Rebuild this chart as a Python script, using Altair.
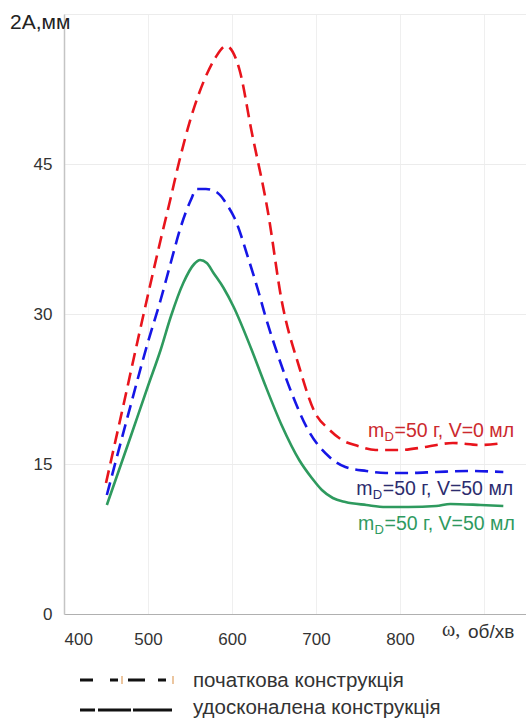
import altair as alt
import pandas as pd

# ---- data ----
omega_red = [450, 470, 490, 515, 527, 537, 551, 567, 580, 593, 609, 623, 643, 659, 680, 699, 715, 731, 750, 771, 800, 830, 863, 896, 923]
amp_red = [13.1, 20.6, 28.2, 37.4, 41.6, 45.2, 49.6, 53.4, 55.6, 56.8, 54.4, 48.4, 40.1, 31.4, 24.7, 20.1, 18.5, 17.4, 16.8, 16.4, 16.4, 16.7, 17.1, 16.9, 17.1]

omega_blue = [451, 475, 500, 515, 527, 539, 551, 558, 569, 583, 595, 603, 620, 632, 639, 655, 671, 690, 716, 735, 760, 783, 810, 843, 880, 923]
amp_blue = [11.9, 19.5, 27.2, 31.4, 35.1, 38.7, 41.4, 42.5, 42.5, 42.1, 40.8, 39.6, 35.4, 32.1, 30.0, 25.8, 22.1, 18.5, 15.7, 14.7, 14.3, 14.1, 14.1, 14.2, 14.3, 14.2]

omega_green = [451, 480, 500, 515, 527, 542, 555, 562, 570, 578, 590, 602, 623, 639, 659, 680, 695, 707, 720, 735, 760, 783, 810, 843, 860, 896, 923]
amp_green = [10.9, 17.9, 22.8, 26.4, 29.7, 33.1, 35.0, 35.4, 35.1, 34.1, 32.6, 30.7, 26.5, 23.0, 18.9, 15.4, 13.6, 12.4, 11.6, 11.2, 10.9, 10.7, 10.7, 10.8, 11.0, 10.9, 10.8]

label_rest = ["=50 г, V=0 мл", "=50 г, V=50 мл", "=50 г, V=50 мл"]
label_x = [762, 748, 750]
label_y = [17.7, 11.9, 8.4]

x_ticks = [400, 500, 600, 700, 800, 900]
y_ticks = [0, 15, 30, 45, 60]
y_title = "2A,мм"
x_title_sym = "ω,"
x_title_unit = "об/хв"
legend_texts = ["початкова конструкція", "удосконалена конструкція"]

line_colors = ["#e8141c", "#1616e6", "#2e9a5e"]
label_colors = ["#cc2a2e", "#2c2c6e", "#2f9a5f"]

FONT = "Liberation Sans"

xscale = alt.Scale(domain=[400, 950], nice=False, zero=False)
yscale = alt.Scale(domain=[0, 60], nice=False)

xaxis = alt.Axis(values=x_ticks, labelExpr="datum.value == 900 ? '' : datum.label",
                 title=None, ticks=False, grid=True, gridColor="#efefef",
                 domainColor="#b0b0b0", domainWidth=1.2, labelFontSize=17,
                 labelColor="#333333", labelFont=FONT, labelPadding=17)
yaxis = alt.Axis(values=y_ticks, labelExpr="datum.value == 60 ? '' : datum.label",
                 title=None, ticks=False, grid=True, gridColor="#ececec",
                 domainColor="#c4c4c4", domainWidth=1.5, labelFontSize=17,
                 labelColor="#333333", labelFont=FONT, labelPadding=12)


def line_layer(omega, amp, color, dash):
    df = pd.DataFrame({"omega": omega, "A": amp})
    kw = dict(color=color, strokeWidth=2.6, interpolate="monotone")
    if dash:
        kw["strokeDash"] = [13, 7]
    return alt.Chart(df).mark_line(**kw).encode(
        x=alt.X("omega:Q", scale=xscale, axis=xaxis),
        y=alt.Y("A:Q", scale=yscale, axis=yaxis),
    )


red = line_layer(omega_red, amp_red, line_colors[0], True)
blue = line_layer(omega_blue, amp_blue, line_colors[1], True)
green = line_layer(omega_green, amp_green, line_colors[2], False)

labels = []
for i in range(3):
    df = pd.DataFrame({"x": [label_x[i]], "y": [label_y[i]], "rest": [label_rest[i]]})
    base = alt.Chart(df).encode(x=alt.X("x:Q", scale=xscale), y=alt.Y("y:Q", scale=yscale))
    labels.append(base.mark_text(text="m", align="left", baseline="alphabetic", fontSize=19.5,
                                 font=FONT, color=label_colors[i]))
    labels.append(base.mark_text(text="D", align="left", baseline="alphabetic", fontSize=13,
                                 font=FONT, color=label_colors[i], dx=16.5, dy=4))
    labels.append(base.mark_text(align="left", baseline="alphabetic", fontSize=19.5,
                                 font=FONT, color=label_colors[i], dx=26.5).encode(text="rest:N"))

one = pd.DataFrame({"k": [0]})

ytitle = alt.Chart(one).mark_text(text=y_title, align="left", baseline="alphabetic",
                                  fontSize=21, font=FONT, color="#222222").encode(
    x=alt.value(-54), y=alt.value(15))
xt1 = alt.Chart(one).mark_text(text=x_title_sym, align="left", baseline="middle",
                               fontSize=20, font="Liberation Serif", color="#333333").encode(
    x=alt.value(378), y=alt.value(616))
xt2 = alt.Chart(one).mark_text(text=x_title_unit, align="left", baseline="middle",
                               fontSize=19, font=FONT, color="#333333").encode(
    x=alt.value(404), y=alt.value(618))

# legend (drawn below the plot area)
leg_dash = alt.Chart(one).mark_rule(color="#111111", strokeWidth=3,
                                    strokeDash=[13, 17, 8, 10, 17, 13, 8, 40]).encode(
    x=alt.value(16), x2=alt.value(102), y=alt.value(666))
leg_tick1 = alt.Chart(one).mark_rule(color="#e0a060", strokeWidth=1.2).encode(
    x=alt.value(58), y=alt.value(662), y2=alt.value(670))
leg_tick2 = alt.Chart(one).mark_rule(color="#e0a060", strokeWidth=1.2).encode(
    x=alt.value(109), y=alt.value(662), y2=alt.value(670))
leg_solid = alt.Chart(one).mark_rule(color="#111111", strokeWidth=3,
                                     strokeDash=[15, 3, 33, 2, 40]).encode(
    x=alt.value(16), x2=alt.value(108), y=alt.value(696))
leg_t1 = alt.Chart(one).mark_text(text=legend_texts[0], align="left", baseline="alphabetic",
                                  fontSize=20.5, font=FONT, color="#333333").encode(
    x=alt.value(129), y=alt.value(673))
leg_t2 = alt.Chart(one).mark_text(text=legend_texts[1], align="left", baseline="alphabetic",
                                  fontSize=20.5, font=FONT, color="#333333").encode(
    x=alt.value(129), y=alt.value(700))

chart = alt.layer(
    red, blue, green, *labels, ytitle, xt1, xt2,
    leg_dash, leg_tick1, leg_tick2, leg_solid, leg_t1, leg_t2,
).properties(
    width=462, height=600,
    autosize=alt.AutoSizeParams(type="none"),
    padding={"left": 64, "top": 14, "right": 0, "bottom": 105},
    background="white",
).configure_view(stroke=None)

chart.save("out.html", embed_options={"renderer": "svg", "actions": False})
